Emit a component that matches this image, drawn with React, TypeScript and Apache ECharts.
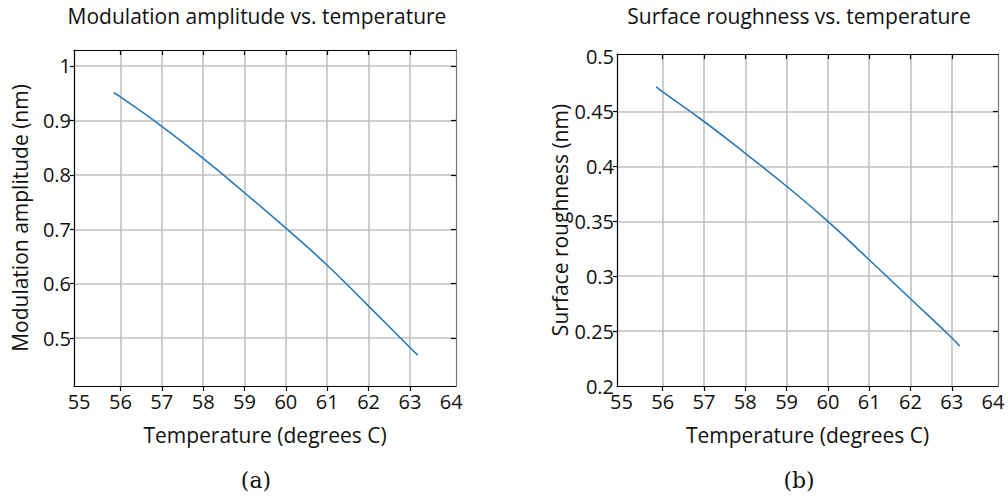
import React, { useEffect, useRef } from "react";
import * as echarts from "echarts";

// ---- data ----
const tempA = [55.84, 56, 57, 58, 59, 60, 61, 62, 63, 63.19];
const amplitude = [0.951, 0.943, 0.889, 0.83, 0.767, 0.702, 0.634, 0.559, 0.483, 0.469];
const tempB = [55.84, 56, 57, 58, 59, 60, 61, 62, 63, 63.19];
const roughness = [0.4725, 0.468, 0.441, 0.412, 0.382, 0.35, 0.315, 0.2795, 0.244, 0.2365];

const xTickLabels = [55, 56, 57, 58, 59, 60, 61, 62, 63, 64];
const xTickMarks = [56, 57, 58, 59, 60, 61, 62, 63];
const yLabelsA = [0.5, 0.6, 0.7, 0.8, 0.9, 1];
const yTicksA = [0.5, 0.6, 0.7, 0.8, 0.9, 1];
const yLabelsB = [0.2, 0.25, 0.3, 0.35, 0.4, 0.45, 0.5];
const yTicksB = [0.25, 0.3, 0.35, 0.4, 0.45];

const titles = ["Modulation amplitude vs. temperature", "Surface roughness vs. temperature"];
const xName = "Temperature (degrees C)";
const yNames = ["Modulation amplitude (nm)", "Surface roughness (nm)"];
const captions = ["(a)", "(b)"];

const FONT = "'Open Sans', 'Noto Sans', sans-serif";
const GRID_COLOR = "#c0c0c0";
const LINE_COLOR = "#2878b8";

const fmt = (v: number) => String(parseFloat(Number(v).toFixed(3)));

export default function App() {
  const ref = useRef<HTMLDivElement>(null);
  useEffect(() => {
    if (!ref.current) return;
    const chart = echarts.init(ref.current, undefined, { renderer: "svg" });

    const grids = [
      { left: 74, top: 50, width: 382, height: 336 },
      { left: 617, top: 54, width: 381, height: 332 },
    ];
    const xRanges = [
      [54.877, 64.114],
      [54.893, 64.12],
    ];
    const yRanges = [
      [0.4123, 1.029],
      [0.2, 0.5025],
    ];
    const yLabels = [yLabelsA, yLabelsB];
    const yTicks = [yTicksA, yTicksB];

    const xAxes: any[] = [];
    const yAxes: any[] = [];
    [0, 1].forEach((i) => {
      xAxes.push({
        type: "value",
        gridIndex: i,
        position: "bottom",
        min: xRanges[i][0],
        max: xRanges[i][1],
        name: xName,
        nameLocation: "middle",
        nameGap: 38,
        nameTextStyle: { fontFamily: FONT, fontSize: 21, color: "#111" },
        axisLine: { show: true, onZero: false, lineStyle: { color: "#000", width: 1.2 } },
        axisTick: { show: true, inside: false, length: 5, customValues: xTickMarks, lineStyle: { color: "#000", width: 1.2 } },
        axisLabel: { show: true, customValues: xTickLabels, margin: 5, fontFamily: FONT, fontSize: 20, color: "#111", formatter: fmt },
        splitLine: { show: true, lineStyle: { color: GRID_COLOR, width: 1.6 } },
      });
      xAxes.push({
        type: "value",
        gridIndex: i,
        position: "top",
        min: xRanges[i][0],
        max: xRanges[i][1],
        axisLine: { show: true, onZero: false, lineStyle: { color: "#000", width: 1.2 } },
        axisTick: { show: true, inside: true, length: 5, customValues: xTickMarks, lineStyle: { color: "#000", width: 1.2 } },
        axisLabel: { show: false },
        splitLine: { show: false },
      });
      yAxes.push({
        type: "value",
        gridIndex: i,
        position: "left",
        min: yRanges[i][0],
        max: yRanges[i][1],
        name: yNames[i],
        nameLocation: "middle",
        nameGap: 44,
        nameTextStyle: { fontFamily: FONT, fontSize: 21, color: "#111" },
        axisLine: { show: true, onZero: false, lineStyle: { color: "#000", width: 1.2 } },
        axisTick: { show: true, inside: false, length: 4, customValues: yTicks[i], lineStyle: { color: "#000", width: 1.2 } },
        axisLabel: { show: true, customValues: yLabels[i], margin: 3, padding: [6, 0, 0, 0], fontFamily: FONT, fontSize: 20, color: "#111", formatter: fmt },
        splitLine: { show: true, lineStyle: { color: GRID_COLOR, width: 1.6 } },
      });
      yAxes.push({
        type: "value",
        gridIndex: i,
        position: "right",
        min: yRanges[i][0],
        max: yRanges[i][1],
        axisLine: { show: true, onZero: false, lineStyle: { color: "#777", width: 1.2 } },
        axisTick: { show: true, inside: true, length: 5, customValues: yTicks[i], lineStyle: { color: "#000", width: 1.2 } },
        axisLabel: { show: false },
        splitLine: { show: false },
      });
    });

    chart.setOption({
      animation: false,
      backgroundColor: "#fff",
      title: [
        { text: titles[0], left: 257, top: 5, textAlign: "center", padding: 0, textStyle: { fontFamily: FONT, fontSize: 21, fontWeight: "normal", color: "#111" } },
        { text: titles[1], left: 799, top: 5, textAlign: "center", padding: 0, textStyle: { fontFamily: FONT, fontSize: 21, fontWeight: "normal", color: "#111" } },
      ],
      grid: grids.map((g) => ({ ...g, containLabel: false })),
      xAxis: xAxes,
      yAxis: yAxes,
      series: [
        {
          type: "line",
          xAxisIndex: 0,
          yAxisIndex: 0,
          data: tempA.map((t, k) => [t, amplitude[k]]),
          smooth: true,
          showSymbol: false,
          lineStyle: { color: LINE_COLOR, width: 1.6 },
        },
        {
          type: "line",
          xAxisIndex: 2,
          yAxisIndex: 2,
          data: tempB.map((t, k) => [t, roughness[k]]),
          smooth: true,
          showSymbol: false,
          lineStyle: { color: LINE_COLOR, width: 1.6 },
        },
      ],
      graphic: [
        { type: "text", x: 256, y: 480, style: { text: captions[0], align: "center", verticalAlign: "middle", font: "22px 'DejaVu Serif', 'Liberation Serif', serif", fill: "#111" } },
        { type: "text", x: 799, y: 480, style: { text: captions[1], align: "center", verticalAlign: "middle", font: "22px 'DejaVu Serif', 'Liberation Serif', serif", fill: "#111" } },
      ],
    });
    return () => chart.dispose();
  }, []);
  return <div ref={ref} style={{ position: "fixed", left: 0, top: 0, width: 1008, height: 498 }} />;
}
